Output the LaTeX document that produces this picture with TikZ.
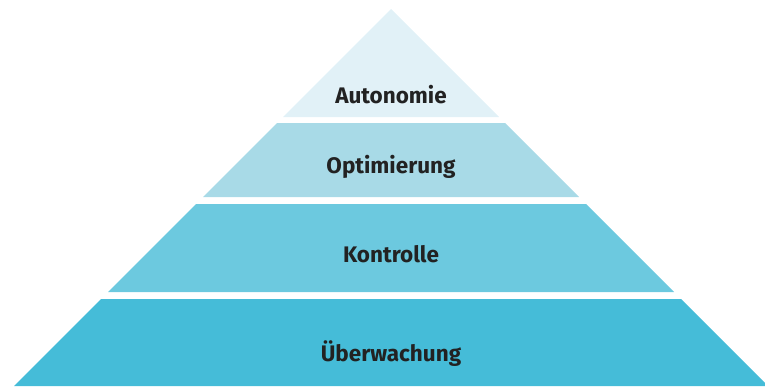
\documentclass[tikz,border=0pt]{standalone}
\usepackage{fontspec}
\setmainfont{Fira Sans}
\definecolor{levelA}{HTML}{E1F1F7}
\definecolor{levelB}{HTML}{A8DAE7}
\definecolor{levelC}{HTML}{6CC9DF}
\definecolor{levelD}{HTML}{45BCD8}
\definecolor{labeltext}{HTML}{222222}
\tikzset{
  lvl/.style={font=\fontsize{22.5}{26}\selectfont\bfseries, text=labeltext}
}
\begin{document}
\begin{tikzpicture}[x=1pt,y=-1pt]
\useasboundingbox (0,0) rectangle (765,386);
\clip (0,0) rectangle (765,386);
\fill[levelA] (391,9) -- (283,117) -- (499,117) -- cycle;
\fill[levelB] (277,123) -- (505,123) -- (579,197) -- (203,197) -- cycle;
\fill[levelC] (196,204) -- (586,204) -- (674,292) -- (108,292) -- cycle;
\fill[levelD] (101,299) -- (681,299) -- (768,386) -- (14,386) -- cycle;
\node[lvl] (autonomie) at (391,95) {Autonomie};
\node[lvl] (optimierung) at (391,167) {Optimierung};
\node[lvl] (kontrolle) at (391,254) {Kontrolle};
\node[lvl] (ueberwachung) at (391,354) {Überwachung};
\end{tikzpicture}
\end{document}
